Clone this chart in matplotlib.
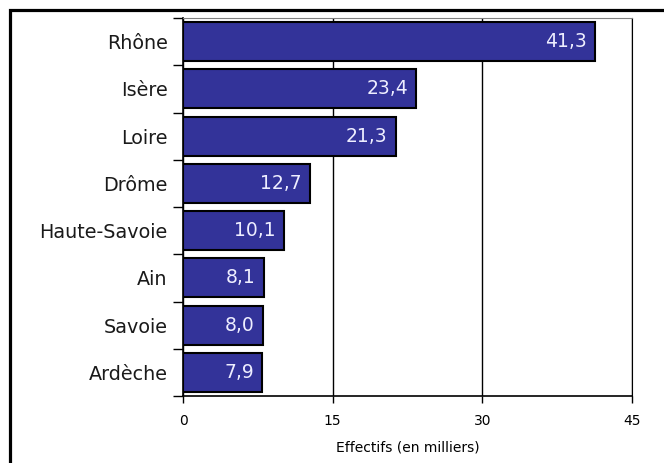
import matplotlib.pyplot as plt
import numpy as np
from matplotlib.patches import Rectangle

departements = ["Rhône", "Isère", "Loire", "Drôme", "Haute-Savoie", "Ain", "Savoie", "Ardèche"]
effectifs = [41.3, 23.4, 21.3, 12.7, 10.1, 8.1, 8.0, 7.9]
x_ticks = [0, 15, 30, 45]

plt.rcParams['font.family'] = ['DejaVu Sans']

fig = plt.figure(figsize=(6.64, 4.63), dpi=100)
ax = fig.add_axes([183 / 664, 1 - 396 / 463, 449 / 664, 378 / 463])

pos = np.arange(len(departements))
bars = ax.barh(pos, effectifs, height=0.83, color="#333399", edgecolor="black", linewidth=1.5, zorder=3)

for y, v in zip(pos, effectifs):
    ax.text(v - 0.8, y, f"{v:.1f}".replace(".", ","), ha="right", va="center",
            color="#eeeeff", fontsize=13.5, zorder=4)

ax.set_xlim(0, 45)
ax.set_ylim(len(departements) - 0.5, -0.5)
ax.set_xticks(x_ticks)
ax.set_xticklabels([str(t) for t in x_ticks], fontsize=10)
ax.set_yticks(pos)
ax.set_yticklabels(departements, fontsize=13.8, color="#1a1a1a")
ax.set_yticks(np.arange(len(departements) + 1) - 0.5, minor=True)
ax.tick_params(axis="y", which="major", length=0, pad=11)
ax.tick_params(axis="y", which="minor", length=7, width=1, direction="out")
ax.tick_params(axis="x", length=5, width=1, direction="out", pad=8)
ax.xaxis.grid(True, color="black", linewidth=1, zorder=0)
ax.set_xlabel("Effectifs (en milliers)", fontsize=10, labelpad=9)

for s in ["left", "bottom"]:
    ax.spines[s].set_linewidth(1.2)
ax.spines["top"].set_color("#808080")
ax.spines["right"].set_color("black")

# cadre extérieur
fig.patches.append(Rectangle((9.5 / 664, -0.1), 1.2, 1 - 9.5 / 463 + 0.1, transform=fig.transFigure,
                             fill=False, edgecolor="black", linewidth=2.3))

fig.savefig("out.png", dpi=100)
